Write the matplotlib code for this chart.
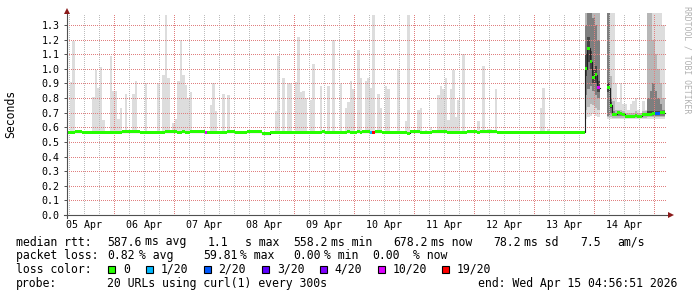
import numpy as np
import matplotlib.pyplot as plt

# ---- data (x axis in hours since window start, one bin per hour) ----
n_hours = 240
first_midnight = 18.6
day_labels = ["05 Apr", "06 Apr", "07 Apr", "08 Apr", "09 Apr",
              "10 Apr", "11 Apr", "12 Apr", "13 Apr", "14 Apr"]

base_median = 0.566
# (first hour, last hour, median) where median differs from the base level
median_runs = [(3, 5, 0.571), (22, 28, 0.571), (39, 43, 0.571), (46, 46, 0.571),
               (49, 54, 0.571), (64, 66, 0.571), (72, 77, 0.571), (78, 80, 0.557),
               (102, 102, 0.571), (112, 112, 0.571), (116, 116, 0.571),
               (118, 120, 0.571), (123, 125, 0.571), (136, 136, 0.559),
               (137, 140, 0.571), (146, 151, 0.571), (160, 163, 0.571),
               (165, 171, 0.571)]

# outer smoke (max ping) for the calm period
spike_hours = [1, 2, 10, 11, 12, 13, 14, 17, 18, 19, 20, 21, 23, 26, 27, 31, 36,
               38, 39, 40, 42, 43, 44, 45, 46, 47, 48, 49, 57, 58, 59, 62, 64,
               83, 84, 86, 88, 89, 91, 92, 93, 94, 95, 97, 98, 101, 104, 106, 109,
               111, 112, 113, 114, 116, 117, 119, 120, 121, 122, 124, 125, 127, 128,
               132, 135, 136, 140, 141, 143, 145, 148, 149, 150, 151, 152, 153, 154,
               155, 156, 158, 164, 166, 168, 169, 171, 189, 190, 192]
spike_tops = [0.91, 1.19, 0.81, 0.99, 0.87, 1.01, 0.65, 1.09, 0.85, 0.85, 0.66, 0.73,
              0.83, 0.83, 0.92, 0.90, 0.90, 0.96, 1.37, 0.94, 0.63, 0.66, 0.92, 1.20,
              0.96, 0.89, 0.80, 0.84, 0.75, 0.90, 0.71, 0.83, 0.82,
              0.71, 1.09, 0.94, 0.90, 0.90, 0.91, 1.22, 0.84, 0.85, 0.80, 0.79, 1.03,
              0.88, 0.88, 1.20, 0.90, 0.73, 0.77, 0.92, 0.86, 1.13, 0.94, 0.92, 0.94,
              0.87, 1.37, 0.83, 0.73, 0.88, 0.86, 1.00, 0.64, 1.37, 0.72, 0.73, 0.58,
              0.60, 0.82, 0.88, 0.86, 0.94, 0.65, 0.86, 0.99, 0.67, 0.79, 1.10, 0.64,
              1.02, 0.59, 0.59, 0.86, 0.73, 0.87, 0.59]

# degraded period, hours 207..238
late_hours = np.arange(207, 239)
nan = np.nan
late_median = [1.00, 1.14, 1.05, 0.94, 0.96, 0.87, nan, nan, nan, 0.87, 0.75,
               0.69, 0.69, 0.70, 0.695, 0.69, 0.675, 0.675, 0.675, 0.675, 0.68,
               0.675, 0.675, 0.685, 0.685, 0.69, 0.69, 0.695, 0.695, 0.695, 0.70, 0.70]
late_min = [0.66, 0.67, 0.68, 0.69, 0.68, 0.67, nan, nan, nan, 0.66, 0.66,
            0.655, 0.655, 0.655, 0.655, 0.655, 0.655, 0.655, 0.655, 0.655, 0.655,
            0.655, 0.655, 0.655, 0.655, 0.66, 0.66, 0.66, 0.66, 0.66, 0.66, 0.66]
late_max = [1.45, 1.45, 1.45, 1.45, 1.45, 1.45, nan, nan, nan, 1.45, 1.45,
            1.45, 0.90, 0.77, 0.90, 0.76, 0.76, 0.72, 0.76, 0.78, 0.80,
            0.72, 0.70, 0.78, 0.72, 1.45, 1.45, 1.45, 1.45, 1.45, 1.45, 1.30]
late_q3_lo = [0.72, 0.74, 0.76, 0.75, 0.73, 0.72, nan, nan, nan, 0.67, 0.67,
              0.665, 0.665, 0.665, 0.665, 0.665, 0.665, 0.665, 0.665, 0.665, 0.665,
              0.665, 0.665, 0.665, 0.665, 0.67, 0.67, 0.67, 0.67, 0.67, 0.67, 0.67]
late_q3_hi = [1.45, 1.45, 1.45, 1.45, 1.40, 1.38, nan, nan, nan, 1.45, 0.95,
              0.78, 0.72, 0.72, 0.72, 0.71, 0.70, 0.70, 0.70, 0.70, 0.71,
              0.70, 0.70, 0.71, 0.71, 1.45, 1.45, 1.20, 1.10, 1.00, 0.90, 0.80]
late_q6_lo = [0.82, 0.86, 0.88, 0.85, 0.82, 0.80, nan, nan, nan, 0.68, 0.70,
              0.675, 0.675, 0.68, 0.68, 0.675, 0.665, 0.665, 0.665, 0.665, 0.67,
              0.665, 0.665, 0.675, 0.675, 0.68, 0.68, 0.68, 0.68, 0.68, 0.68, 0.68]
late_q6_hi = [1.30, 1.38, 1.40, 1.35, 1.30, 1.20, nan, nan, nan, 1.45, 0.80,
              0.71, 0.70, 0.71, 0.705, 0.70, 0.685, 0.685, 0.685, 0.685, 0.69,
              0.685, 0.685, 0.695, 0.695, 0.80, 0.85, 0.90, 0.85, 0.80, 0.76, 0.72]
late_q9_lo = [0.95, 1.05, 1.00, 0.90, 0.90, 0.84, nan, nan, nan, 0.84, 0.73,
              0.68, 0.68, 0.69, 0.69, 0.68, 0.67, 0.67, 0.67, 0.67, 0.675,
              0.67, 0.67, 0.68, 0.68, 0.685, 0.685, 0.69, 0.69, 0.69, 0.69, 0.69]
late_q9_hi = [1.10, 1.22, 1.12, 1.00, 1.02, 0.92, nan, nan, nan, 0.90, 0.77,
              0.70, 0.70, 0.71, 0.70, 0.70, 0.68, 0.68, 0.68, 0.68, 0.69,
              0.68, 0.68, 0.69, 0.69, 0.71, 0.71, 0.71, 0.71, 0.71, 0.71, 0.71]

loss_labels = ["0", "1/20", "2/20", "3/20", "4/20", "10/20", "19/20"]
loss_colors = ["#26ff00", "#00b8ff", "#0059ff", "#5e00ff", "#7e00ff", "#dd00ff", "#ff0000"]
loss_hours = [55, 121, 122, 212, 235, 236]
loss_level = ["10/20", "1/20", "19/20", "10/20", "2/20", "2/20"]

legend_lines = [
    [(16, "median rtt:"), (107.3, "587.6"), (145, "ms avg"), (208, "1.1"),
     (245, "s max"), (293, "558.2"), (331, "ms min"), (393.3, "678.2"),
     (431, "ms now"), (493.3, "78.2"), (524.5, "ms sd"), (580, "7.5"),
     (617.5, "am/s")],
    [(16, "packet loss:"), (107.3, "0.82"), (139, "% avg"), (203.3, "59.81"),
     (240, "% max"), (293.3, "0.00"), (324, "% min"), (372.7, "0.00"),
     (413, "% now")],
]
loss_key_x = [108, 146, 203.5, 262, 319.5, 377.5, 442]
probe_text = "20 URLs using curl(1) every 300s"
end_text = "end: Wed Apr 15 04:56:51 2026"

# ---- figure ----
W, H = 697, 297
fig = plt.figure(figsize=(W / 100, H / 100), dpi=100)
fig.patch.set_facecolor("white")
ax_l, ax_b, ax_w, ax_h = 67, 82, 600, 202
ax = fig.add_axes([ax_l / W, ax_b / H, ax_w / W, ax_h / H])
px_per_unit = 146.15
ymax = ax_h / px_per_unit
ax.set_xlim(0, n_hours)
ax.set_ylim(0, ymax)
for s in ax.spines.values():
    s.set_visible(False)

median = np.full(n_hours, base_median)
for a, b, v in median_runs:
    median[a:b + 1] = v
median[207:239] = late_median
median[239] = np.nan

hrs = np.arange(n_hours)

# smoke, calm period
sh = np.array(spike_hours)
st = np.array(spike_tops)
ax.bar(sh, st - median[sh] + 0.008, bottom=median[sh] - 0.008, width=1,
       align="edge", color="#dddddd", linewidth=0, zorder=1)

# smoke, degraded period
bands = [(late_min, late_max, "#dddddd"), (late_q3_lo, late_q3_hi, "#b7b7b7"),
         (late_q6_lo, late_q6_hi, "#7e7e7e"), (late_q9_lo, late_q9_hi, "#454545")]
for lo, hi, col in bands:
    lo = np.array(lo)
    hi = np.array(hi)
    ok = ~np.isnan(lo)
    ax.bar(late_hours[ok], hi[ok] - lo[ok], bottom=lo[ok], width=1, align="edge",
           color=col, linewidth=0, zorder=1)

# grid (dotted)
dot = (0, (1, 2))
for h in np.arange(first_midnight - 18, n_hours, 6):
    major = abs((h - first_midnight) % 24) < 1e-6
    ax.axvline(h, color="#e07f7f" if major else "#bdbdbd", lw=0.72,
               linestyle=dot, zorder=2, antialiased=False)
for y in np.arange(0.1, 1.35, 0.1):
    ax.axhline(y, color="#e07f7f", lw=0.72, linestyle=dot, zorder=2,
               antialiased=False)

# median line and loss colour
ax.step(np.arange(n_hours + 1), np.append(median, np.nan), where="post",
        color="#202020", lw=0.8, zorder=3)
cols = ["#26ff00"] * n_hours
for h, lv in zip(loss_hours, loss_level):
    cols[h] = loss_colors[loss_labels.index(lv)]
ok = ~np.isnan(median)
sw = 1.6 / px_per_unit
ax.bar(hrs[ok], 2 * sw, bottom=median[ok] - sw, width=1, align="edge",
       color=[c for c, k in zip(cols, ok) if k], linewidth=0, zorder=4)

# ticks
mono = "DejaVu Sans Mono"
ax.set_yticks(np.arange(0, 1.35, 0.1))
ax.set_yticklabels([f"{v:.1f}" for v in np.arange(0, 1.35, 0.1)],
                   family=mono, fontsize=7.2)
ax.tick_params(axis="y", length=2.5, width=0.7, color="#505050", pad=3)
ax.set_xticks(first_midnight - 12 + 24 * np.arange(len(day_labels)))
ax.set_xticklabels(day_labels, family=mono, fontsize=7.2)
ax.tick_params(axis="x", length=0, pad=3.6)

# axes with arrows
def fx(x):
    return x / W

def fy(y):
    return 1 - y / H

fig.add_artist(plt.Line2D([fx(64), fx(670)], [fy(215), fy(215)], color="#505050", lw=0.8))
fig.add_artist(plt.Line2D([fx(67), fx(67)], [fy(218), fy(11)], color="#505050", lw=0.8))
fig.add_artist(plt.Line2D([fx(671)], [fy(215)], marker=">", markersize=4.5,
                          color="#8b1a1a", markeredgewidth=0))
fig.add_artist(plt.Line2D([fx(67)], [fy(10.5)], marker="^", markersize=4.5,
                          color="#8b1a1a", markeredgewidth=0))

fig.text(fx(10.5), fy(114), "Seconds", rotation=90, family=mono, fontsize=8.3,
         ha="center", va="center")
fig.text(fx(687), fy(60), "RRDTOOL / TOBI OETIKER", rotation=270, family=mono,
         fontsize=5.9, color="#b0b0b0", ha="center", va="center")

# legend block
baselines = [245.5, 259.3, 273, 286.5]
for line, yb in zip(legend_lines, baselines):
    for x, t in line:
        fig.text(fx(x), fy(yb), t, family=mono, fontsize=8.3, va="baseline")
fig.text(fx(16), fy(baselines[2]), "loss color:", family=mono, fontsize=8.3, va="baseline")
for x, lab, col in zip(loss_key_x, loss_labels, loss_colors):
    fig.add_artist(plt.Rectangle((fx(x), fy(273)), 7 / W, 7 / H, facecolor=col,
                                 edgecolor="black", lw=0.8))
    fig.text(fx(x + 15), fy(baselines[2]), lab, family=mono, fontsize=8.3, va="baseline")
fig.text(fx(16), fy(baselines[3]), "probe:", family=mono, fontsize=8.3, va="baseline")
fig.text(fx(107.3), fy(baselines[3]), probe_text, family=mono, fontsize=8.3, va="baseline")
fig.text(fx(478.3), fy(baselines[3]), end_text, family=mono, fontsize=8.3, va="baseline")

fig.savefig("out.png", dpi=100, facecolor="white")
